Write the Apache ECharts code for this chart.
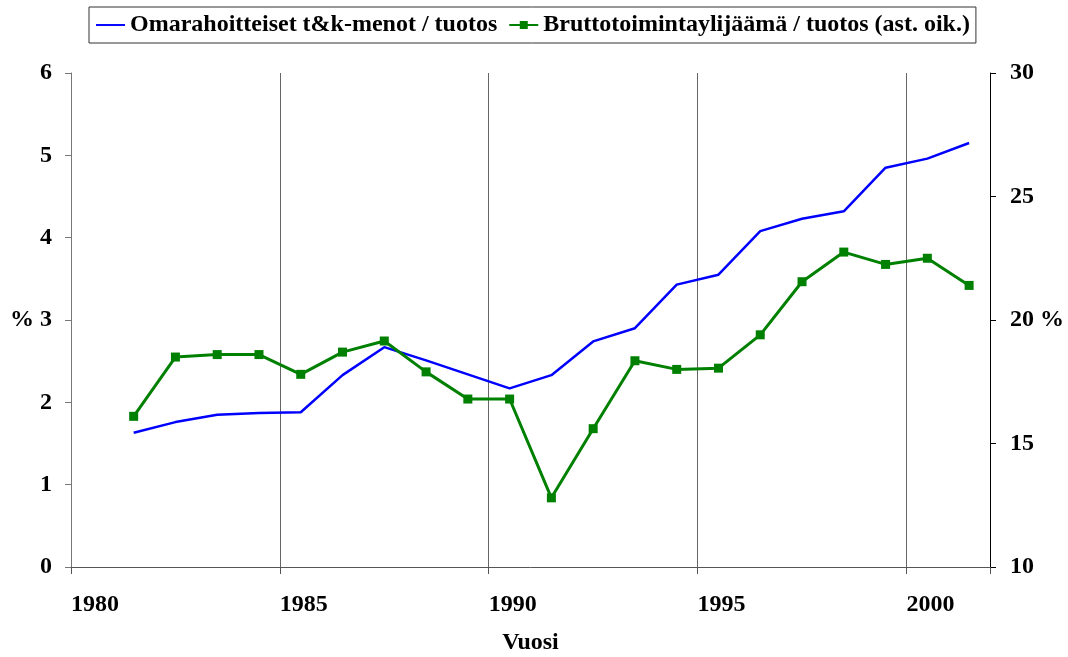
<!DOCTYPE html>
<html>
<head>
<meta charset="utf-8">
<script src="https://cdn.jsdelivr.net/npm/echarts@6/dist/echarts.min.js"></script>
<style>
  html, body { margin: 0; padding: 0; background: #fff; }
  #main { width: 1068px; height: 657px; }
</style>
</head>
<body>
<div id="main"></div>
<script>
var years = [1981.5, 1982.5, 1983.5, 1984.5, 1985.5, 1986.5, 1987.5, 1988.5, 1989.5, 1990.5, 1991.5,
             1992.5, 1993.5, 1994.5, 1995.5, 1996.5, 1997.5, 1998.5, 1999.5, 2000.5, 2001.5];
var tkMenot = [1.63, 1.76, 1.85, 1.87, 1.88, 2.33, 2.67, 2.51, 2.34, 2.17, 2.33,
               2.74, 2.90, 3.43, 3.55, 4.08, 4.23, 4.32, 4.85, 4.96, 5.15];
var ylijaama = [16.1, 18.5, 18.6, 18.6, 17.8, 18.7, 19.15, 17.9, 16.8, 16.8, 12.8,
                15.6, 18.35, 18.0, 18.05, 19.4, 21.55, 22.75, 22.25, 22.5, 21.4];
var names = ['Omarahoitteiset t&k-menot / tuotos', 'Bruttotoimintaylijäämä / tuotos (ast. oik.)'];

var font = 'Liberation Serif';
var myChart = echarts.init(document.getElementById('main'));

var option = {
    animation: false,
    backgroundColor: '#fff',
    textStyle: { fontFamily: font },
    legend: {
        top: 7,
        left: 89,
        borderColor: '#333',
        borderWidth: 1,
        padding: [6, 6, 6, 7],
        itemGap: 11,
        itemWidth: 29,
        itemHeight: 10,
        textStyle: { fontFamily: font, fontWeight: 'bold', fontSize: 24, color: '#000' },
        data: [
            { name: names[0], icon: 'path://M0,0H30V2H0Z' },
            { name: names[1] }
        ]
    },
    grid: { left: 71, right: 78, top: 73, bottom: 90, outerBoundsMode: 'none' },
    xAxis: {
        type: 'value',
        min: 1980,
        max: 2002,
        interval: 5,
        name: 'Vuosi',
        nameLocation: 'middle',
        nameGap: 64,
        nameTextStyle: { fontFamily: font, fontWeight: 'bold', fontSize: 24, color: '#000' },
        axisLine: { lineStyle: { color: '#555', width: 1 } },
        axisTick: { inside: false, length: 7, lineStyle: { color: '#555' } },
        axisLabel: {
            margin: 26,
            align: 'left',
            fontFamily: font, fontWeight: 'bold', fontSize: 24, color: '#000',
            formatter: function (v) { return v % 5 === 0 ? String(v) : ''; }
        },
        splitLine: { show: true, lineStyle: { color: '#666', width: 1 } }
    },
    yAxis: [
        {
            type: 'value',
            min: 0,
            max: 6,
            interval: 1,
            position: 'left',
            axisLine: { show: true, lineStyle: { color: '#777', width: 1 } },
            axisTick: { show: true, length: 6, lineStyle: { color: '#777' } },
            axisLabel: {
                margin: 19,
                fontFamily: font, fontWeight: 'bold', fontSize: 24, color: '#000',
                formatter: function (v) { return v === 3 ? '% 3' : String(v); }
            },
            splitLine: { show: false }
        },
        {
            type: 'value',
            min: 10,
            max: 30,
            interval: 5,
            position: 'right',
            axisLine: { show: true, lineStyle: { color: '#000', width: 1 } },
            axisTick: { show: true, length: 6, lineStyle: { color: '#000' } },
            axisLabel: {
                margin: 20,
                fontFamily: font, fontWeight: 'bold', fontSize: 24, color: '#000',
                formatter: function (v) { return v === 20 ? '20 %' : String(v); }
            },
            splitLine: { show: false }
        }
    ],
    series: [
        {
            name: names[0],
            type: 'line',
            yAxisIndex: 0,
            symbol: 'none',
            lineStyle: { color: '#0000ff', width: 2.5 },
            itemStyle: { color: '#0000ff' },
            data: years.map(function (y, i) { return [y, tkMenot[i]]; })
        },
        {
            name: names[1],
            type: 'line',
            yAxisIndex: 1,
            symbol: 'rect',
            symbolSize: 9,
            lineStyle: { color: '#008000', width: 3 },
            itemStyle: { color: '#008000' },
            data: years.map(function (y, i) { return [y, ylijaama[i]]; })
        }
    ]
};

myChart.setOption(option);
</script>
</body>
</html>
